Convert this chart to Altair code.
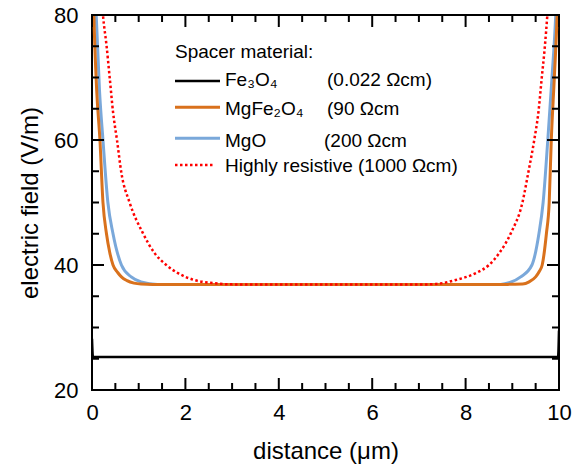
import altair as alt
import pandas as pd

# ---------------- data ----------------
fe_x = [0.0, 0.02, 5.0, 9.98, 10.0]
fe_v = [28.2, 25.3, 25.3, 25.3, 29.5]

mgfe_x = [0.01, 0.04, 0.10, 0.17, 0.235, 0.31, 0.38, 0.45, 0.55, 0.63, 0.75, 0.90, 1.05, 1.30,
          5.0, 8.90, 9.22, 9.36, 9.50, 9.58, 9.64, 9.73, 9.79, 9.835, 9.90, 9.96, 9.99]
mgfe_v = [90, 80, 68, 60, 50, 45, 42, 40, 38.8, 38.1, 37.5, 37.1, 36.95, 36.9,
          36.9, 36.9, 36.95, 37.3, 38.1, 39.0, 40, 45, 50, 60, 70, 80, 88]

mgo_x = [0.04, 0.09, 0.16, 0.235, 0.34, 0.45, 0.63, 0.84, 1.05, 1.40,
         5.0, 8.75, 8.95, 9.18, 9.42, 9.57, 9.66, 9.76, 9.85, 9.93, 9.97]
mgo_v = [90, 80, 68, 60, 50, 45, 40, 38.1, 37.3, 36.9,
         36.9, 36.9, 37.2, 38.1, 40, 45, 50, 60, 70, 80, 88]

hr_x = [0.17, 0.235, 0.31, 0.38, 0.45, 0.535, 0.63, 0.80, 1.09, 1.34, 1.59, 1.84, 2.19, 2.6, 3.0,
        5.0, 7.2, 7.5, 7.79, 8.22, 8.5, 8.72, 8.97, 9.22, 9.34, 9.47, 9.56, 9.63, 9.70, 9.75, 9.80]
hr_v = [87, 80, 75.2, 69.9, 64.5, 60, 54.7, 50.1, 45.1, 41.9, 40, 38.7, 37.6, 37.1, 36.9,
        36.9, 36.9, 37.1, 37.6, 38.7, 40, 41.9, 45.1, 50.1, 54.7, 60, 64.5, 69.9, 75.2, 80, 86]

x_major = [0, 2, 4, 6, 8, 10]
x_minor = [0.5, 1, 1.5, 2.5, 3, 3.5, 4.5, 5, 5.5, 6.5, 7, 7.5, 8.5, 9, 9.5]
y_major = [20, 40, 60, 80]
y_minor = [25, 30, 35, 45, 50, 55, 65, 70, 75]

legend_title = "Spacer material:"
legend_names = ["Fe₃O₄", "MgFe₂O₄", "MgO", "Highly resistive (1000 Ωcm)"]
legend_resist = ["(0.022 Ωcm)", "(90 Ωcm", "(200 Ωcm", ""]

# ---------------- styling ----------------
FONT = "Liberation Sans"
W, H = 467, 375
colors = ["#000000", "#D9711C", "#7AA8DA", "#FF0000"]
widths = [2.5, 3, 3, 2.5]
dashes = [None, None, None, [2.5, 2.5]]

xscale = alt.Scale(domain=[0, 10], nice=False, zero=False)
yscale = alt.Scale(domain=[20, 80], nice=False, zero=False)

x_axis = alt.Axis(values=x_major, format="d", title="distance (μm)", grid=False, domain=False,
                  ticks=False, tickSize=0, labelFontSize=22, labelFont=FONT, labelColor="black",
                  labelPadding=12, labelFlush=False, labelOverlap=False,
                  titleFont=FONT, titleFontSize=24, titleFontWeight="normal",
                  titleColor="black", titleX=W / 2, titleY=68, titleBaseline="alphabetic",
                  titleAlign="center")
y_axis = alt.Axis(values=y_major, format="d", title="electric field (V/m)", grid=False,
                  domain=False, ticks=False, tickSize=0, labelFontSize=22, labelFont=FONT,
                  labelColor="black", labelPadding=14, labelAlign="right", labelBaseline="middle",
                  labelFlush=False, labelOverlap=False,
                  titleFont=FONT, titleFontSize=24, titleFontWeight="normal", titleColor="black",
                  titleX=-54.5, titleY=H / 2, titleBaseline="alphabetic", titleAlign="center",
                  titleAngle=-90)

X = lambda: alt.X("x:Q", scale=xscale, axis=x_axis)
Y = lambda: alt.Y("v:Q", scale=yscale, axis=y_axis)

series = [(fe_x, fe_v), (mgfe_x, mgfe_v), (mgo_x, mgo_v), (hr_x, hr_v)]
order = [0, 2, 1, 3]  # draw black, blue, orange, red

layers = []
for idx in order:
    xs, vs = series[idx]
    df = pd.DataFrame({"x": xs, "v": vs})
    kw = dict(color=colors[idx], strokeWidth=widths[idx], clip=True, interpolate="monotone")
    if dashes[idx]:
        kw["strokeDash"] = dashes[idx]
    layers.append(
        alt.Chart(df).mark_line(**kw).encode(x=X(), y=Y(), order=alt.Order("x:Q"))
    )

# inward ticks on all four sides
def xticks(vals, length):
    d = pd.DataFrame({"x": vals})
    base = alt.Chart(d).mark_rule(color="black", strokeWidth=2)
    return [
        base.encode(x=X(), y=alt.value(H), y2=alt.value(H - length)),
        base.encode(x=X(), y=alt.value(0), y2=alt.value(length)),
    ]

def yticks(vals, length):
    d = pd.DataFrame({"v": vals})
    base = alt.Chart(d).mark_rule(color="black", strokeWidth=2)
    return [
        base.encode(y=Y(), x=alt.value(0), x2=alt.value(length)),
        base.encode(y=Y(), x=alt.value(W), x2=alt.value(W - length)),
    ]

layers += xticks(x_major, 12) + xticks(x_minor, 7) + yticks(y_major, 12) + yticks(y_minor, 7)

# legend (drawn inside the plot)
one = pd.DataFrame({"a": [0]})
def txt(s, px, py):
    return alt.Chart(one).mark_text(font=FONT, fontSize=19, align="left", baseline="alphabetic",
                                    color="black").encode(text=alt.value(s), x=alt.value(px),
                                                          y=alt.value(py))

layers.append(txt(legend_title, 83, 43))
row_line_y = [66, 92.3, 123.3, 150]
row_text_y = [70.5, 100, 131.5, 156.5]
resist_x = [235, 235, 232, 0]
line_end = [128, 128, 128, 121]
for i in range(4):
    kw = dict(color=colors[i], strokeWidth=widths[i])
    if dashes[i]:
        kw["strokeDash"] = dashes[i]
    layers.append(alt.Chart(one).mark_rule(**kw).encode(
        x=alt.value(83), x2=alt.value(line_end[i]), y=alt.value(row_line_y[i])))
    layers.append(txt(legend_names[i], 133, row_text_y[i]))
    if legend_resist[i]:
        layers.append(txt(legend_resist[i], resist_x[i], row_text_y[i]))

chart = alt.layer(*layers).properties(
    width=W, height=H,
    padding={"left": 92, "top": 15, "right": 21, "bottom": 77},
    autosize=alt.AutoSizeParams(type="none"),
    background="white",
).configure_view(stroke="black", strokeWidth=2)

chart.save("out.html", embed_options={"renderer": "svg", "actions": False})
